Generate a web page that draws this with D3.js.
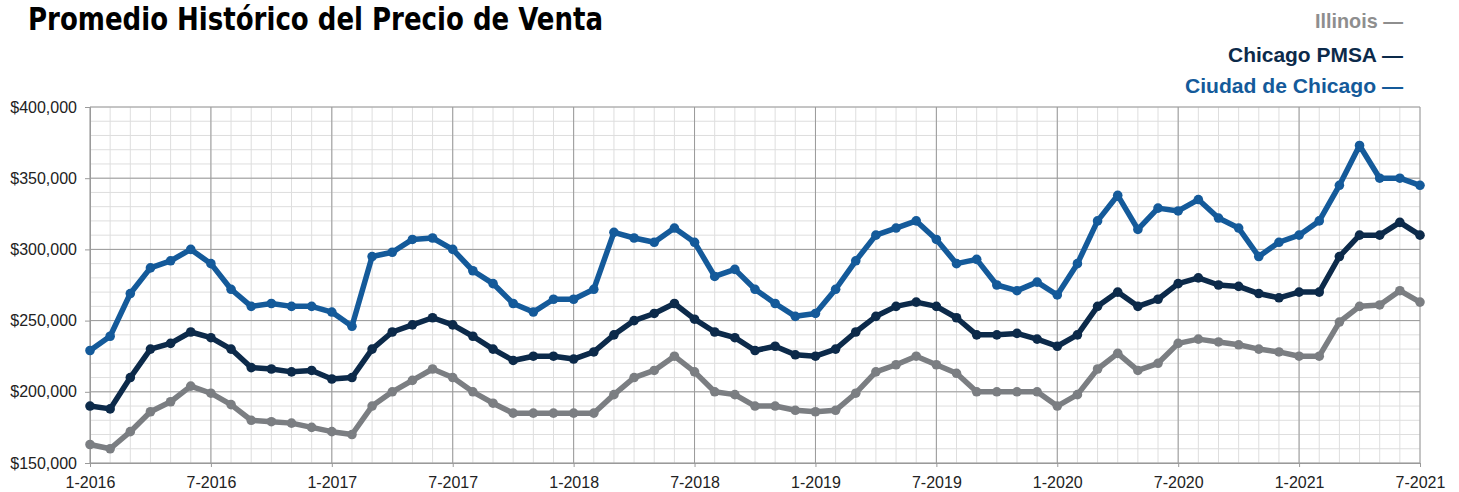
<!DOCTYPE html>
<html>
<head>
<meta charset="utf-8">
<script src="https://cdn.jsdelivr.net/npm/d3@7"></script>
<style>
  html, body { margin: 0; padding: 0; background: #fff; }
  svg { display: block; }
</style>
</head>
<body>
<svg id="chart" width="1459" height="492"></svg>
<script>
// ---- data ----
const months = d3.range(0, 67); // Jan 2016 .. Jul 2021
const xTickIdx = [0, 6, 12, 18, 24, 30, 36, 42, 48, 54, 60, 66];
const xTickLabels = ["1-2016","7-2016","1-2017","7-2017","1-2018","7-2018","1-2019","7-2019","1-2020","7-2020","1-2021","7-2021"];
const yTicks = [150000, 200000, 250000, 300000, 350000, 400000];

const illinois = [163,160,172,186,193,204,199,191,180,179,
                  178,175,172,170,190,200,208,216,210,200,
                  192,185,185,185,185,185,198,210,215,225,
                  214,200,198,190,190,187,186,187,199,214,
                  219,225,219,213,200,200,200,200,190,198,
                  216,227,215,220,234,237,235,233,230,228,
                  225,225,249,260,261,271,263].map(v => v * 1000);
const pmsa = [190,188,210,230,234,242,238,230,217,216,
              214,215,209,210,230,242,247,252,247,239,
              230,222,225,225,223,228,240,250,255,262,
              251,242,238,229,232,226,225,230,242,253,
              260,263,260,252,240,240,241,237,232,240,
              260,270,260,265,276,280,275,274,269,266,
              270,270,295,310,310,319,310].map(v => v * 1000);
const city = [229,239,269,287,292,300,290,272,260,262,
              260,260,256,246,295,298,307,308,300,285,
              276,262,256,265,265,272,312,308,305,315,
              305,281,286,272,262,253,255,272,292,310,
              315,320,307,290,293,275,271,277,268,290,
              320,338,314,329,327,335,322,315,295,305,
              310,320,345,373,350,350,345].map(v => v * 1000);

const seriesNames = ["Illinois", "Chicago PMSA", "Ciudad de Chicago"];
const seriesColors = ["#7b7e82", "#0c2a4a", "#145a9a"];
const seriesData = [illinois, pmsa, city];

// ---- layout ----
const svg = d3.select("#chart");
const L = 90, R = 1420, T = 107, B = 463;
const x = d3.scaleLinear().domain([0, 66]).range([L, R]);
const y = d3.scaleLinear().domain([150000, 400000]).range([B, T]);

// grid
const g = svg.append("g");
g.selectAll("line.hmin").data(d3.range(150000, 400001, 10000)).join("line")
  .attr("x1", L).attr("x2", R).attr("y1", d => y(d)).attr("y2", d => y(d))
  .attr("stroke", "#dedede").attr("stroke-width", 1);
g.selectAll("line.vmin").data(months).join("line")
  .attr("y1", T).attr("y2", B).attr("x1", d => x(d)).attr("x2", d => x(d))
  .attr("stroke", "#dedede").attr("stroke-width", 1);
g.selectAll("line.hmaj").data(yTicks).join("line")
  .attr("x1", L).attr("x2", R).attr("y1", d => y(d)).attr("y2", d => y(d))
  .attr("stroke", "#9a9a9a").attr("stroke-width", 1);
g.selectAll("line.vmaj").data(xTickIdx).join("line")
  .attr("y1", T).attr("y2", B).attr("x1", d => x(d)).attr("x2", d => x(d))
  .attr("stroke", "#9a9a9a").attr("stroke-width", 1);

// axes
const yAxis = svg.append("g").attr("transform", `translate(${L},0)`)
  .call(d3.axisLeft(y).tickValues(yTicks).tickSize(5).tickPadding(8)
        .tickFormat(d => "$" + d3.format(",")(d)));
const xAxis = svg.append("g").attr("transform", `translate(0,${B})`)
  .call(d3.axisBottom(x).tickValues(xTickIdx).tickSize(4).tickPadding(10)
        .tickFormat((d, i) => xTickLabels[i]));
[yAxis, xAxis].forEach(a => {
  a.select(".domain").attr("stroke", "#9a9a9a");
  a.selectAll(".tick line").attr("stroke", "#9a9a9a");
  a.selectAll("text").attr("fill", "#222").style("font-family", "'Liberation Sans', Arial, sans-serif").style("font-size", "16px");
});

// lines
const line = d3.line().x((d, i) => x(i)).y(d => y(d));
seriesData.forEach((s, k) => {
  svg.append("path").datum(s).attr("d", line)
    .attr("fill", "none").attr("stroke", seriesColors[k])
    .attr("stroke-width", 5.5).attr("stroke-linejoin", "round");
  svg.append("g").selectAll("circle").data(s).join("circle")
    .attr("cx", (d, i) => x(i)).attr("cy", d => y(d)).attr("r", 4.8)
    .attr("fill", seriesColors[k]);
});

// title
svg.append("text").attr("x", 28).attr("y", 30)
  .attr("textLength", 575).attr("lengthAdjust", "spacingAndGlyphs")
  .style("font-family", "'Liberation Sans Narrow', 'DejaVu Sans Condensed', 'Liberation Sans', sans-serif")
  .style("font-weight", "bold").style("font-size", "32px").attr("fill", "#000")
  .text("Promedio Histórico del Precio de Venta");

// legend
const legendY = [28, 62, 93];
const legendW = [88, 175, 218];
seriesNames.forEach((n, k) => {
  svg.append("text").attr("x", 1403).attr("y", legendY[k]).attr("text-anchor", "end")
    .attr("textLength", legendW[k]).attr("lengthAdjust", "spacingAndGlyphs")
    .style("font-family", "'Liberation Sans', Arial, sans-serif")
    .style("font-weight", "bold").style("font-size", "20.5px")
    .attr("fill", k === 0 ? "#8e8e8e" : seriesColors[k])
    .text(n + " —");
});
</script>
</body>
</html>
